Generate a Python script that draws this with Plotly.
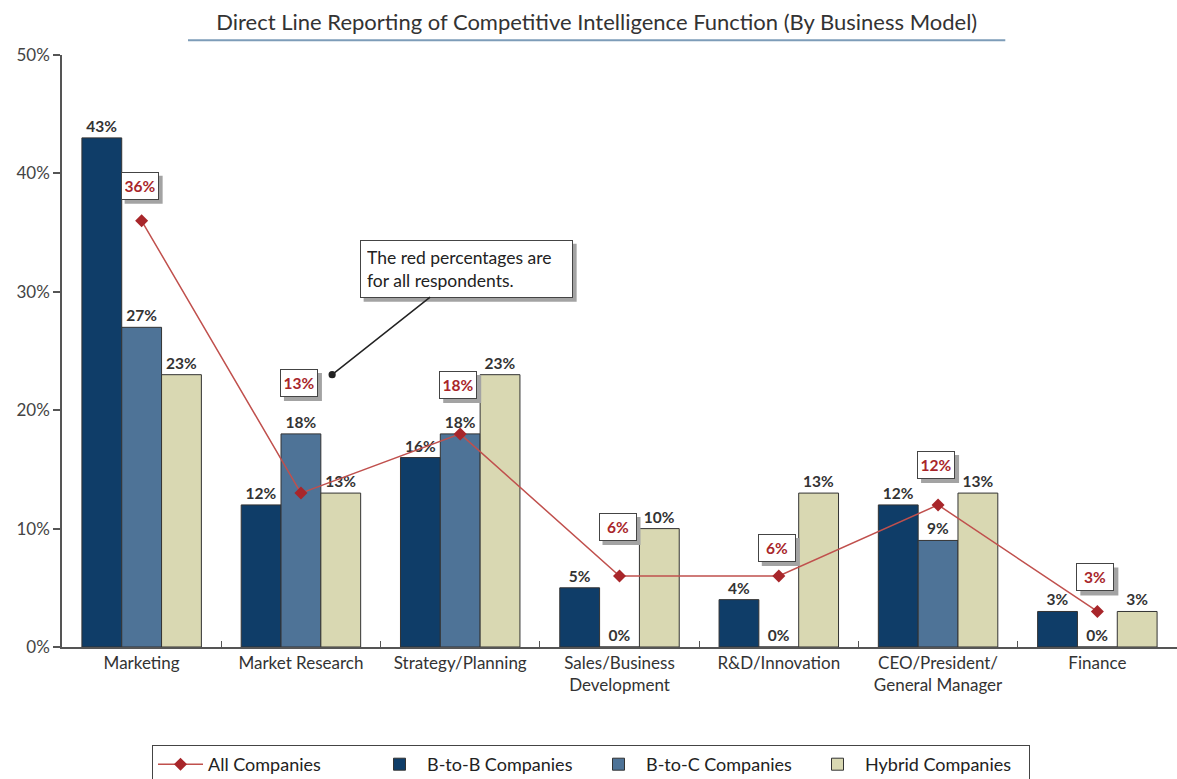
import plotly.graph_objects as go

categories = ["Marketing", "Market Research", "Strategy/Planning",
              "Sales/Business<br>Development", "R&D/Innovation",
              "CEO/President/<br>General Manager", "Finance"]
b2b = [43, 12, 16, 5, 4, 12, 3]
b2c = [27, 18, 18, 0, 0, 9, 0]
hybrid = [23, 13, 23, 10, 13, 13, 3]
all_companies = [36, 13, 18, 6, 6, 12, 3]
y_ticks = [0, 10, 20, 30, 40, 50]
y_tick_labels = ["0%", "10%", "20%", "30%", "40%", "50%"]

# label box vertical offsets (px) above each red marker
red_label_shift = [35, 110, 49, 49, 28, 40, 34]

FONT = "Lato, 'Open Sans', sans-serif"
RED = "#a8262a"
TXT = "#333333"
SHADOW = "#a3a3a3"

fig = go.Figure()

fig.add_trace(go.Scatter(
    x=categories, y=all_companies, name="All Companies",
    mode="lines+markers",
    line=dict(color="#c0504d", width=1.5),
    marker=dict(symbol="diamond", size=10, color=RED),
))

bar_specs = [
    ("B-to-B Companies", b2b, "#0f3d68"),
    ("B-to-C Companies", b2c, "#4e7397"),
    ("Hybrid Companies", hybrid, "#d9d8b2"),
]
for name, vals, col in bar_specs:
    fig.add_trace(go.Bar(
        x=categories, y=vals, name=name,
        marker=dict(color=col, line=dict(color="#333333", width=1)),
        text=[f"<b>{v}%</b>" for v in vals], textposition="outside",
        textfont=dict(family=FONT, size=15.5, color=TXT),
        cliponaxis=False,
    ))

annotations = []
shapes = []
BW, BH, BP = 30, 20, 3          # red label box text area + padding
half_w = BW / 2 + BP + 1
half_h = BH / 2 + BP + 1
for i, (v, s) in enumerate(zip(all_companies, red_label_shift)):
    shapes.append(dict(
        type="rect", layer="above", xref="x", yref="y",
        xsizemode="pixel", ysizemode="pixel", xanchor=i, yanchor=v,
        x0=-2 - half_w + 4, x1=-2 + half_w + 4,
        y0=s - half_h - 4, y1=s + half_h - 4,
        fillcolor=SHADOW, line=dict(width=0),
    ))
    annotations.append(dict(
        x=i, y=v, xref="x", yref="y", text=f"<b>{v}%</b>", showarrow=False,
        font=dict(family=FONT, size=15.5, color=RED),
        bgcolor="white", bordercolor="#444444", borderwidth=1, borderpad=BP,
        width=BW, height=BH,
        xshift=-2, yshift=s,
    ))

# callout
CX, CY = 1.196, 23.0
AX, AY = 134, -106
CW, CH, CP = 199, 44, 6
cw2 = CW / 2 + CP + 1
ch2 = CH / 2 + CP + 1
shapes.append(dict(
    type="rect", layer="above", xref="x", yref="y",
    xsizemode="pixel", ysizemode="pixel", xanchor=CX, yanchor=CY,
    x0=AX - cw2 + 4, x1=AX + cw2 + 4, y0=-AY - ch2 - 4, y1=-AY + ch2 - 4,
    fillcolor=SHADOW, line=dict(width=0),
))
annotations.append(dict(
    x=CX, y=CY, xref="x", yref="y",
    text="The red percentages are<br>for all respondents.",
    showarrow=True, ax=AX, ay=AY, align="left",
    width=CW, height=CH, borderwidth=1, borderpad=CP,
    font=dict(family=FONT, size=17.5, color="#222222"),
    bgcolor="white", bordercolor="#444444",
    arrowcolor="#222222", arrowhead=6, arrowsize=1.2, arrowwidth=1.5,
))

shapes.append(dict(type="line", xref="paper", yref="paper",
                   x0=0.113, x1=0.846, y0=1.025, y1=1.025,
                   line=dict(color="#7d9cb8", width=2)))

fig.update_layout(
    width=1177, height=779,
    margin=dict(l=62, r=0, t=55, b=132),
    paper_bgcolor="white", plot_bgcolor="white",
    barmode="group", bargap=0.25, bargroupgap=0,
    font=dict(family=FONT, color=TXT),
    title=dict(
        text="Direct Line Reporting of Competitive Intelligence Function (By Business Model)",
        x=0.507, xref="container", xanchor="center",
        y=0.972, yref="container", yanchor="middle",
        font=dict(family=FONT, size=22, color="#333333"),
    ),
    xaxis=dict(
        showline=True, linecolor="#555555", linewidth=1.5,
        ticks="inside", tickson="boundaries", ticklen=6, tickcolor="#555555",
        showgrid=False,
        tickfont=dict(family=FONT, size=17, color="#333333"),
    ),
    yaxis=dict(
        range=[0, 50], tickvals=y_ticks, ticktext=y_tick_labels,
        showline=True, linecolor="#555555", linewidth=1.5,
        ticks="outside", ticklen=7, tickcolor="#555555", tickwidth=1.5,
        showgrid=False, zeroline=False,
        tickfont=dict(family=FONT, size=17, color="#444444"),
    ),
    legend=dict(
        orientation="h",
        xref="container", x=152 / 1177, xanchor="left",
        yref="container", y=1 - 745 / 779, yanchor="top",
        bordercolor="#444444", borderwidth=1, bgcolor="white",
        font=dict(family=FONT, size=18, color="#222222"),
        itemwidth=45, entrywidth=159, entrywidthmode="pixels",
    ),
    annotations=annotations,
    shapes=shapes,
)

fig.write_html("out.html", config={"displayModeBar": False},
               post_script="document.body.style.margin='0';")
